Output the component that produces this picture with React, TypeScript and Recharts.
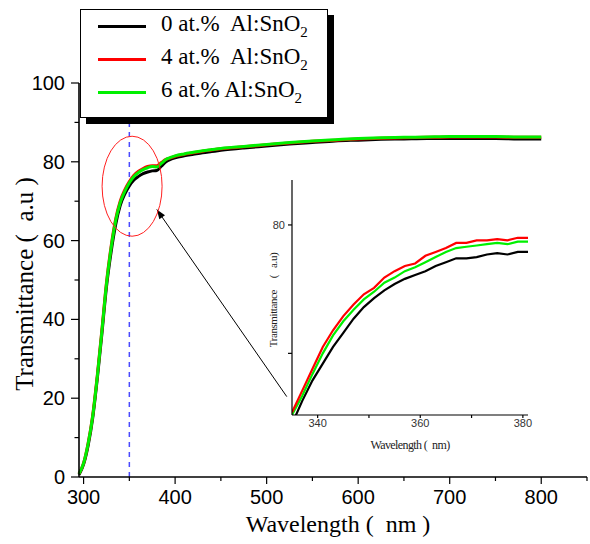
import { LineChart, Line, XAxis, YAxis, ReferenceLine, ReferenceDot } from "recharts";

// main spectrum (nm)
const wavelengths = [
  295, 300, 305, 310, 315, 320, 325, 330, 335, 340, 345, 350, 355, 360, 365, 370, 375, 380, 385, 390, 395, 400,
  410, 420, 430, 440, 450, 475, 500, 525, 550, 575, 600, 625, 650, 675, 700, 725, 750, 775, 800,
];
const trans0 = [
  0.6, 3.2, 8.0, 15.0, 25.0, 36.3, 48.2, 57.0, 64.0, 68.9, 71.8, 73.9, 75.4, 76.3, 77.0, 77.4, 77.7, 77.8, 78.9, 80.0, 80.6, 81.0,
  81.5, 81.9, 82.3, 82.6, 82.9, 83.5, 84.0, 84.5, 84.9, 85.3, 85.5, 85.7, 85.8, 85.9, 85.9, 85.9, 85.9, 85.8, 85.8,
];
const trans4 = [
  0.8, 3.5, 8.6, 15.7, 25.8, 37.3, 49.3, 58.4, 65.4, 70.0, 72.9, 75.0, 76.6, 77.6, 78.3, 78.8, 79.0, 79.0, 79.8, 80.6, 81.0, 81.4,
  81.9, 82.3, 82.7, 83.0, 83.3, 83.8, 84.3, 84.8, 85.2, 85.5, 85.8, 86.0, 86.1, 86.2, 86.3, 86.3, 86.3, 86.2, 86.2,
];
const trans6 = [
  0.8, 3.5, 8.5, 15.5, 25.5, 37.0, 49.0, 58.0, 65.0, 69.6, 72.5, 74.7, 76.3, 77.3, 78.0, 78.5, 78.8, 78.7, 79.6, 80.6, 81.1, 81.5,
  82.0, 82.4, 82.8, 83.1, 83.4, 83.9, 84.4, 84.9, 85.3, 85.6, 85.9, 86.1, 86.2, 86.3, 86.4, 86.4, 86.4, 86.3, 86.3,
];

const mainXTicks = [300, 350, 400, 450, 500, 550, 600, 650, 700, 750, 800, 850];
const mainXLabels = [300, 400, 500, 600, 700, 800];
const mainYTicks = [0, 10, 20, 30, 40, 50, 60, 70, 80, 90, 100];
const mainYLabels = [0, 20, 40, 60, 80, 100];

// inset (zoom of the band edge)
const insetWavelengths = [335, 337, 339, 341, 343, 345, 347, 349, 351, 353, 355, 357, 359, 361, 363, 365, 367, 369, 371, 373, 375, 377, 379, 381];
const inset0 = [64.5, 66.3, 67.9, 69.2, 70.5, 71.6, 72.7, 73.6, 74.3, 74.9, 75.4, 75.8, 76.1, 76.4, 76.8, 77.1, 77.4, 77.4, 77.5, 77.7, 77.8, 77.7, 77.9, 77.9];
const inset4 = [65.4, 67.1, 68.8, 70.5, 71.8, 72.9, 73.8, 74.6, 75.1, 75.9, 76.4, 76.8, 77.0, 77.6, 77.9, 78.2, 78.6, 78.6, 78.8, 78.8, 78.9, 78.8, 79.0, 79.0];
const inset6 = [65.2, 66.7, 68.4, 70.0, 71.4, 72.5, 73.4, 74.2, 74.8, 75.5, 75.9, 76.4, 76.7, 77.1, 77.5, 77.9, 78.2, 78.3, 78.4, 78.5, 78.6, 78.5, 78.7, 78.7];

const insetXTicks = [340, 350, 360, 370, 380];
const insetXLabels = [340, 360, 380];
const insetYTicks = [70, 80];
const insetYLabels = [80];

const seriesNames = ["0 at.%  Al:SnO", "4 at.%  Al:SnO", "6 at.% Al:SnO"];
const seriesColors = ["#000000", "#ff0000", "#00f000"];

const mainData = wavelengths.map((w, i) => ({ w, t0: trans0[i], t4: trans4[i], t6: trans6[i] }));
const insetData = insetWavelengths.map((w, i) => ({ w, t0: inset0[i], t4: inset4[i], t6: inset6[i] }));

const serif = "'Liberation Serif', 'Times New Roman', serif";
const sans = "'Liberation Sans', Arial, sans-serif";

const BottomTick = (props: any) => {
  const { x, y, payload, labels, major, minor, gap, fontSize, fill } = props;
  const isMajor = labels.includes(payload.value);
  return (
    <g>
      <line x1={x} x2={x} y1={y} y2={y + (isMajor ? major : minor)} stroke="#000" strokeWidth={1.2} />
      {isMajor && (
        <text x={x} y={y + gap} textAnchor="middle" fontSize={fontSize} fontFamily={sans} fill={fill}>
          {payload.value}
        </text>
      )}
    </g>
  );
};

const LeftTick = (props: any) => {
  const { x, y, payload, labels, major, minor, gap, fontSize, fill } = props;
  const isMajor = labels.includes(payload.value);
  return (
    <g>
      <line x1={x} x2={x - (isMajor ? major : minor)} y1={y} y2={y} stroke="#000" strokeWidth={1.2} />
      {isMajor && (
        <text x={x - gap} y={y} dy="0.35em" textAnchor="end" fontSize={fontSize} fontFamily={sans} fill={fill}>
          {payload.value}
        </text>
      )}
    </g>
  );
};

const CircleMark = (props: any) => (
  <ellipse cx={props.cx} cy={props.cy} rx={30} ry={50} fill="none" stroke="#ff2020" strokeWidth={1} />
);

const Arrow = (props: any) => {
  const { x1, y1, x2, y2 } = props;
  const ang = Math.atan2(y2 - y1, x2 - x1);
  const len = 10;
  const wing = 0.35;
  const ax = x2 - len * Math.cos(ang - wing);
  const ay = y2 - len * Math.sin(ang - wing);
  const bx = x2 - len * Math.cos(ang + wing);
  const by = y2 - len * Math.sin(ang + wing);
  return (
    <g>
      <line x1={x1} y1={y1} x2={x2} y2={y2} stroke="#000" strokeWidth={1} />
      <polygon points={`${x2},${y2} ${ax},${ay} ${bx},${by}`} fill="#000" />
    </g>
  );
};

const App = () => {
  return (
    <div style={{ position: "absolute", left: 0, top: 0, width: 590, height: 544, background: "#fff" }}>
      <div style={{ position: "absolute", left: 0, top: 0 }}>
        <LineChart width={590} height={544} data={mainData} margin={{ top: 83, right: 3, bottom: 27, left: 19 }}>
          <XAxis
            dataKey="w"
            type="number"
            domain={[295, 850]}
            ticks={mainXTicks}
            interval={0}
            height={40}
            tickSize={0}
            tickMargin={0}
            tickLine={false}
            axisLine={{ stroke: "#000", strokeWidth: 1.6 }}
            tick={(p: any) => (
              <BottomTick {...p} labels={mainXLabels} major={7} minor={4} gap={27} fontSize={20} fill="#000" />
            )}
          />
          <XAxis xAxisId="top" orientation="top" dataKey="w" type="number" domain={[295, 850]} height={0} tick={false} tickLine={false} axisLine={{ stroke: "#222", strokeWidth: 1 }} />
          <YAxis
            type="number"
            domain={[0, 100]}
            ticks={mainYTicks}
            interval={0}
            width={60}
            tickSize={0}
            tickMargin={0}
            tickLine={false}
            axisLine={{ stroke: "#000", strokeWidth: 1.6 }}
            tick={(p: any) => (
              <LeftTick {...p} labels={mainYLabels} major={8} minor={4.5} gap={14} fontSize={20} fill="#000" />
            )}
          />
          <YAxis yAxisId="right" orientation="right" domain={[0, 100]} width={0} tick={false} tickLine={false} axisLine={{ stroke: "#222", strokeWidth: 1 }} />
          <ReferenceLine x={350} stroke="#4a4aff" strokeWidth={1.5} strokeDasharray="5 5" />
          <Line type="monotone" dataKey="t0" stroke={seriesColors[0]} strokeWidth={3} dot={false} isAnimationActive={false} />
          <Line type="monotone" dataKey="t4" stroke={seriesColors[1]} strokeWidth={3} dot={false} isAnimationActive={false} />
          <Line type="monotone" dataKey="t6" stroke={seriesColors[2]} strokeWidth={3} dot={false} isAnimationActive={false} />
          <ReferenceDot x={353} y={73.8} r={30} shape={CircleMark} />
          <ReferenceLine segment={[{ x: 522, y: 20.4 }, { x: 380, y: 67.9 }]} shape={Arrow} />
        </LineChart>
      </div>

      <div style={{ position: "absolute", left: 0, top: 0 }}>
        <LineChart width={590} height={544} data={insetData} margin={{ top: 180, right: 62, bottom: 99, left: 262 }}>
          <XAxis
            dataKey="w"
            type="number"
            domain={[335, 381]}
            allowDataOverflow
            ticks={insetXTicks}
            interval={0}
            height={30}
            tickSize={0}
            tickMargin={0}
            tickLine={false}
            axisLine={{ stroke: "#000", strokeWidth: 1.2 }}
            tick={(p: any) => (
              <BottomTick {...p} labels={insetXLabels} major={3} minor={3} gap={12} fontSize={11} fill="#333" />
            )}
          />
          <XAxis xAxisId="top" orientation="top" dataKey="w" type="number" domain={[335, 381]} allowDataOverflow height={0} tick={false} tickLine={false} axisLine={{ stroke: "#000", strokeWidth: 1.2 }} />
          <YAxis
            type="number"
            domain={[65.2, 83.5]}
            allowDataOverflow
            ticks={insetYTicks}
            interval={0}
            width={30}
            tickSize={0}
            tickMargin={0}
            tickLine={false}
            axisLine={{ stroke: "#000", strokeWidth: 1.2 }}
            tick={(p: any) => (
              <LeftTick {...p} labels={insetYLabels} major={4} minor={4} gap={7} fontSize={11} fill="#333" />
            )}
          />
          <YAxis yAxisId="right" orientation="right" domain={[65.2, 83.5]} width={0} tick={false} tickLine={false} axisLine={{ stroke: "#000", strokeWidth: 1.2 }} />
          <Line type="linear" dataKey="t0" stroke={seriesColors[0]} strokeWidth={2.2} dot={false} isAnimationActive={false} />
          <Line type="linear" dataKey="t6" stroke={seriesColors[2]} strokeWidth={2.2} dot={false} isAnimationActive={false} />
          <Line type="linear" dataKey="t4" stroke={seriesColors[1]} strokeWidth={2.2} dot={false} isAnimationActive={false} />
        </LineChart>
      </div>

      {/* inset axis titles */}
      <div
        style={{
          position: "absolute",
          left: 273,
          top: 300,
          transform: "translate(-50%, -50%) rotate(-90deg)",
          fontFamily: serif,
          fontSize: 11,
          letterSpacing: -0.4,
          whiteSpace: "pre",
          color: "#222",
        }}
      >
        {"Transmittance     (   a.u)"}
      </div>
      <div
        style={{
          position: "absolute",
          left: 410,
          top: 445,
          transform: "translate(-50%, -50%)",
          fontFamily: serif,
          fontSize: 12,
          letterSpacing: -0.6,
          whiteSpace: "pre",
          color: "#222",
        }}
      >
        {"Wavelength (  nm)"}
      </div>

      {/* main axis titles */}
      <div
        style={{
          position: "absolute",
          left: 338,
          top: 524,
          transform: "translate(-50%, -50%)",
          fontFamily: serif,
          fontSize: 24,
          lineHeight: "26px",
          whiteSpace: "pre",
          color: "#000",
        }}
      >
        {"Wavelength (  nm )"}
      </div>
      <div
        style={{
          position: "absolute",
          left: 25,
          top: 284,
          transform: "translate(-50%, -50%) rotate(-90deg)",
          fontFamily: serif,
          fontSize: 25,
          whiteSpace: "pre",
          color: "#000",
        }}
      >
        {"Transmittance (  a.u )"}
      </div>

      {/* legend */}
      <div
        style={{
          position: "absolute",
          left: 80,
          top: 9,
          width: 248,
          height: 109,
          boxSizing: "border-box",
          border: "1px solid #000",
          background: "#fff",
          boxShadow: "6px 6px 0 #000",
          fontFamily: serif,
          fontSize: 23,
        }}
      >
        {seriesNames.map((name, i) => (
          <div key={name} style={{ position: "absolute", left: 0, top: 16 + i * 33, width: 246 }}>
            <div style={{ position: "absolute", left: 17, top: -1.5, width: 48, height: 3, background: seriesColors[i] }} />
            <div style={{ position: "absolute", left: 80, top: -15, whiteSpace: "pre", lineHeight: "26px" }}>
              {name}
              <sub style={{ fontSize: 15, verticalAlign: -6 }}>2</sub>
            </div>
          </div>
        ))}
      </div>
    </div>
  );
};

export default App;
